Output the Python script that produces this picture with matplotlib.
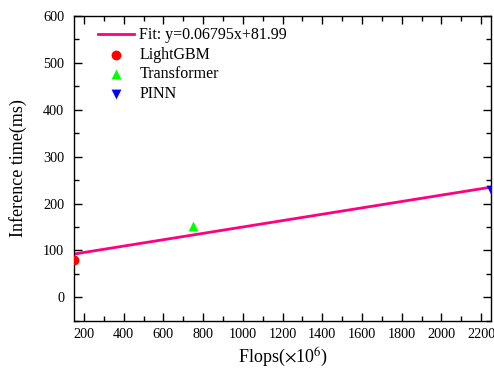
import matplotlib
matplotlib.use("Agg")
import matplotlib.pyplot as plt
import numpy as np
from matplotlib.ticker import MultipleLocator

plt.rcParams['font.family'] = ['Liberation Serif', 'DejaVu Serif']
plt.rcParams['mathtext.fontset'] = 'stix'

models = ["LightGBM", "Transformer", "PINN"]
flops = [150, 750, 2250]
times = [80, 151, 229]
colors = ["#FF0000", "#00FF00", "#0000FF"]
markers = ["o", "^", "v"]
fit_slope = 0.06795
fit_intercept = 81.99
fit_label = "Fit: y=0.06795x+81.99"

W, H = 494, 369
fig = plt.figure(figsize=(W/100, H/100), dpi=100)
ax = fig.add_axes([74/W, 1-320.7/H, (491-74)/W, (320.7-16)/H])

xf = np.array([150, 2250])
ax.plot(xf, fit_slope*xf + fit_intercept, color="#FF0080", lw=2, label=fit_label)
for m, x, y, c, mk in zip(models, flops, times, colors, markers):
    ax.scatter([x], [y], color=c, marker=mk, s=50, label=m, zorder=3, linewidths=0)

ax.set_xlim(150, 2250)
ax.set_ylim(-50, 600)
ax.xaxis.set_major_locator(MultipleLocator(200))
ax.xaxis.set_minor_locator(MultipleLocator(100))
ax.yaxis.set_major_locator(MultipleLocator(100))
ax.yaxis.set_minor_locator(MultipleLocator(50))
ax.tick_params(which='both', direction='in', top=True, right=True, labelsize=10.3, width=1)
ax.tick_params(which='major', length=6)
ax.tick_params(axis='x', which='major', pad=5)
ax.tick_params(axis='y', which='major', pad=7)
ax.tick_params(which='minor', length=3.5)
for s in ax.spines.values():
    s.set_linewidth(1)

fig.text(283/W, 1-357/H, r"Flops($\times$10$^6$)", fontsize=13, ha='center', va='center')
fig.text(18/W, 1-168/H, "Inference time(ms)", fontsize=13, ha='center', va='center', rotation=90)

leg = ax.legend(loc='upper left', frameon=False, fontsize=11.5, handlelength=2.3,
                bbox_to_anchor=(0.03, 1.0), borderaxespad=0.3, labelspacing=0.22,
                handletextpad=0.3)

fig.savefig("out.png", dpi=100)
